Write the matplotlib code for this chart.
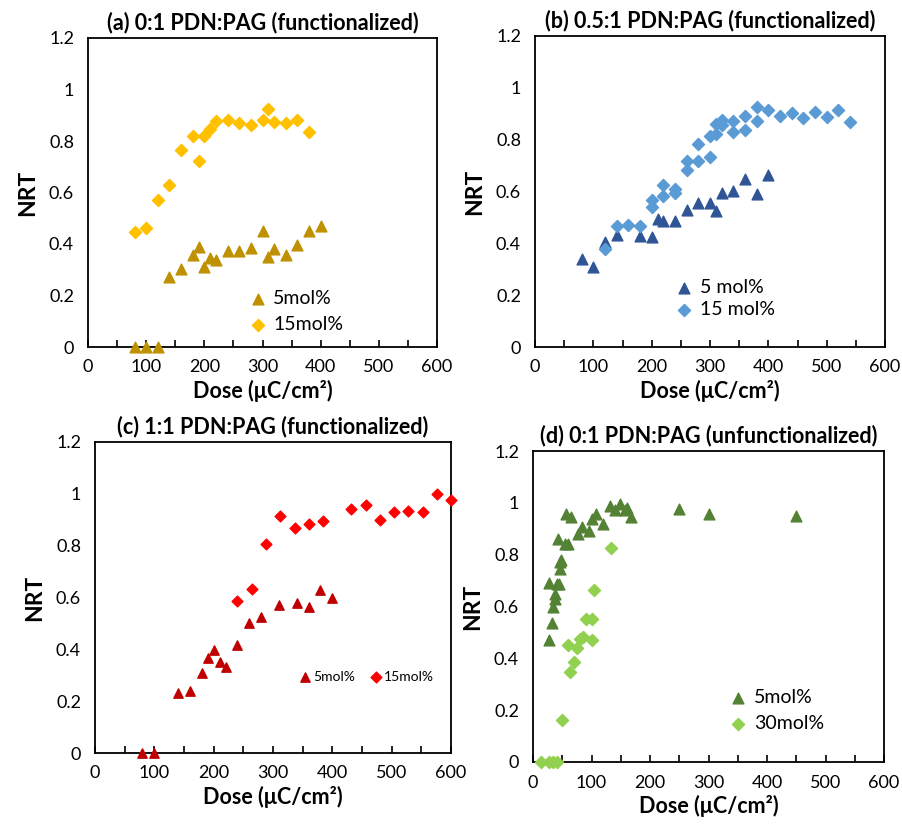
"""Normalized remaining thickness vs dose for four PDN:PAG resist formulations."""
import matplotlib.pyplot as plt
from matplotlib.ticker import MultipleLocator

plt.rcParams['font.family'] = ['Lato', 'DejaVu Sans']

# (a) 0:1 PDN:PAG (functionalized)
a_dose_5 = [80, 100, 120, 140, 160, 180, 190, 200, 210, 220, 240, 260, 280, 300,
            310, 320, 340, 360, 380, 400]
a_nrt_5 = [0, 0, 0, 0.273, 0.304, 0.357, 0.39, 0.309, 0.344, 0.338, 0.374, 0.374,
           0.383, 0.452, 0.351, 0.379, 0.358, 0.396, 0.452, 0.471]
a_dose_15 = [80, 100, 120, 140, 160, 180, 190, 200, 210, 220, 240, 260, 280, 300,
             310, 320, 340, 360, 380]
a_nrt_15 = [0.445, 0.464, 0.571, 0.630, 0.764, 0.821, 0.722, 0.818, 0.847, 0.879,
            0.883, 0.868, 0.861, 0.883, 0.926, 0.874, 0.870, 0.881, 0.835]

# (b) 0.5:1 PDN:PAG (functionalized)
b_dose_5 = [80, 100, 120, 140, 180, 200, 210, 220, 240, 260, 280, 300, 310, 320,
            340, 360, 380, 400]
b_nrt_5 = [0.338, 0.308, 0.405, 0.431, 0.429, 0.424, 0.494, 0.486, 0.486, 0.527,
           0.555, 0.555, 0.524, 0.595, 0.602, 0.647, 0.589, 0.663]
b_dose_15 = [120, 140, 160, 180, 200, 200, 220, 220, 240, 240, 260, 260, 280, 280,
             300, 300, 310, 310, 320, 320, 340, 340, 360, 360, 380, 380, 400, 420,
             440, 460, 480, 500, 520, 540]
b_nrt_15 = [0.379, 0.467, 0.470, 0.467, 0.566, 0.542, 0.627, 0.582, 0.611, 0.594,
            0.717, 0.684, 0.784, 0.717, 0.733, 0.816, 0.823, 0.861, 0.877, 0.855,
            0.871, 0.829, 0.891, 0.838, 0.925, 0.871, 0.913, 0.893, 0.902, 0.882,
            0.906, 0.889, 0.913, 0.868]

# (c) 1:1 PDN:PAG (functionalized)
c_dose_5 = [80, 100, 140, 160, 180, 190, 200, 210, 220, 240, 260, 280, 310, 340,
            360, 380, 400]
c_nrt_5 = [0, 0, 0.231, 0.240, 0.308, 0.366, 0.398, 0.353, 0.330, 0.416, 0.501,
           0.524, 0.571, 0.578, 0.562, 0.629, 0.598]
c_dose_15 = [240, 264, 289, 312, 337, 361, 384, 432, 457, 480, 504, 528, 552, 576, 600]
c_nrt_15 = [0.585, 0.632, 0.805, 0.915, 0.868, 0.883, 0.896, 0.942, 0.955, 0.899,
            0.929, 0.932, 0.929, 1.0, 0.976]

# (d) 0:1 PDN:PAG (unfunctionalized)
d_dose_5 = [28, 32, 35, 37, 38, 28, 41, 44, 46, 47, 43, 48, 55, 60, 57, 65, 77, 84,
            95, 101, 107, 120, 131, 141, 149, 157, 161, 168, 250, 300, 450]
d_nrt_5 = [0.469, 0.537, 0.598, 0.630, 0.647, 0.690, 0.685, 0.685, 0.745, 0.771,
           0.861, 0.781, 0.842, 0.842, 0.958, 0.947, 0.880, 0.906, 0.891, 0.938,
           0.958, 0.919, 0.986, 0.973, 0.996, 0.974, 0.981, 0.947, 0.976, 0.958, 0.951]
d_dose_30 = [13, 27, 34, 41, 50, 59, 63, 70, 76, 81, 86, 90, 100, 101, 105, 133]
d_nrt_30 = [0, 0, 0, 0, 0.161, 0.450, 0.347, 0.386, 0.441, 0.476, 0.482, 0.553,
            0.469, 0.553, 0.662, 0.825]

W, H = 902, 824


def make_axes(fig, left, top, right, bottom):
    return fig.add_axes([left / W, 1 - bottom / H, (right - left) / W, (bottom - top) / H])


def style(ax, title):
    ax.set_xlim(0, 600)
    ax.set_ylim(0, 1.2)
    ax.xaxis.set_major_locator(MultipleLocator(100))
    ax.xaxis.set_minor_locator(MultipleLocator(50))
    ax.set_yticks([0, 0.2, 0.4, 0.6, 0.8, 1.0, 1.2], ['0', '0.2', '0.4', '0.6', '0.8', '1', '1.2'])
    ax.tick_params(axis='x', which='both', direction='in', length=5, width=1.2,
                   labelsize=13, pad=9)
    ax.tick_params(axis='y', length=0, labelsize=13, pad=10)
    for sp in ax.spines.values():
        sp.set_linewidth(1.3)
    ax.set_xlabel('Dose (μC/cm²)', fontsize=15.5, fontweight='bold', labelpad=3)
    ax.set_ylabel('NRT', fontsize=16.5, fontweight='bold', labelpad=8)
    ax.set_title(title, fontsize=15.5, fontweight='bold', pad=6)


fig = plt.figure(figsize=(W / 100, H / 100), dpi=100)

ax = make_axes(fig, 88, 38, 437, 347)
ax.scatter(a_dose_5, a_nrt_5, marker='^', s=60, color='#BF9000', label='5mol%', clip_on=False, zorder=3)
ax.scatter(a_dose_15, a_nrt_15, marker='D', s=38, color='#FFC000', label='15mol%', clip_on=False, zorder=3)
style(ax, '(a) 0:1 PDN:PAG (functionalized)')
ax.legend(loc='center left', bbox_to_anchor=(0.43, 0.115), frameon=False, fontsize=14,
          borderpad=0, handlelength=1, handletextpad=0.3, labelspacing=0.45)

ax = make_axes(fig, 535, 36, 885, 347)
ax.scatter(b_dose_5, b_nrt_5, marker='^', s=60, color='#2F5597', label='5 mol%', zorder=3)
ax.scatter(b_dose_15, b_nrt_15, marker='D', s=38, color='#5B9BD5', label='15 mol%', zorder=3)
style(ax, '(b) 0.5:1 PDN:PAG (functionalized)')
ax.legend(loc='center left', bbox_to_anchor=(0.37, 0.155), frameon=False, fontsize=14,
          borderpad=0, handlelength=1, handletextpad=0.3, labelspacing=0.25)

ax = make_axes(fig, 95, 442, 451, 753)
ax.scatter(c_dose_5, c_nrt_5, marker='^', s=45, color='#C00000', label='5mol%', clip_on=False, zorder=3)
ax.scatter(c_dose_15, c_nrt_15, marker='D', s=30, color='#FF0000', label='15mol%', clip_on=False, zorder=3)
style(ax, '(c) 1:1 PDN:PAG (functionalized)')
ax.legend(loc='center left', bbox_to_anchor=(0.55, 0.245), frameon=False, fontsize=10, ncol=2,
          borderpad=0, handlelength=1, handletextpad=0.1, columnspacing=1.0)

ax = make_axes(fig, 533, 451, 884, 762)
ax.scatter(d_dose_5, d_nrt_5, marker='^', s=60, color='#548235', label='5mol%', clip_on=False, zorder=3)
ax.scatter(d_dose_30, d_nrt_30, marker='D', s=38, color='#92D050', label='30mol%', clip_on=False, zorder=3)
style(ax, '(d) 0:1 PDN:PAG (unfunctionalized)')
ax.legend(loc='center left', bbox_to_anchor=(0.53, 0.165), frameon=False, fontsize=14,
          borderpad=0, handlelength=1, handletextpad=0.3, labelspacing=0.45)

fig.savefig('out.png', dpi=100)
